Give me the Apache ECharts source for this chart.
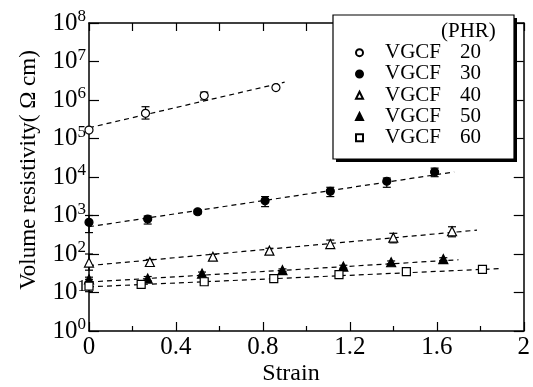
<!DOCTYPE html>
<html>
<head>
<meta charset="utf-8">
<script src="https://cdn.jsdelivr.net/npm/echarts@6/dist/echarts.min.js"></script>
<style>
  html, body { margin: 0; padding: 0; background: #fff; }
  #chart { width: 533px; height: 387px; }
</style>
</head>
<body>
<div id="chart"></div>
<script>
// Measured volume resistivity (Ω·cm) versus strain for each VGCF loading (PHR)
const loadings = ['20', '30', '40', '50', '60'];

const strain20 = [0, 0.26, 0.53, 0.86];
const rho20    = [1.66e5, 4.5e5, 1.3e6, 2.1e6];
const lo20     = [null, 3.2e5, 1.0e6, null];
const hi20     = [null, 6.7e5, 1.6e6, null];

const strain30 = [0, 0.27, 0.50, 0.81, 1.11, 1.37, 1.59];
const rho30    = [665, 810, 1250, 2400, 4250, 7750, 13500];
const lo30     = [360, 600, 1100, 1700, 3100, 5400, 10200];
const hi30     = [1000, 970, 1400, 3100, 5400, 9400, 17000];

const strain40 = [0, 0.28, 0.57, 0.83, 1.11, 1.40, 1.67];
const rho40    = [60, 62, 85, 122, 181, 265, 390];
const lo40     = [38, 52, 74, 105, 140, 195, 280];
const hi40     = [100, 72, 98, 141, 230, 345, 510];

const strain50 = [0, 0.27, 0.52, 0.89, 1.17, 1.39, 1.63];
const rho50    = [22, 23, 31, 38, 47, 61, 74];
const lo50     = [19, 20, 28, 35, 43, 56, 68];
const hi50     = [25, 26, 34, 41, 51, 66, 80];

const strain60 = [0, 0.24, 0.53, 0.85, 1.15, 1.46, 1.81];
const rho60    = [14.7, 16.3, 19, 23, 29, 35, 40];
const lo60     = [10.5, 15, 17.5, 21, 27, 33, 38];
const hi60     = [22, 17.5, 20.5, 25, 31, 37, 42];

// Log-linear fit lines: [strain start, rho start, strain end, rho end]
const fit20 = [0, 1.9e5, 0.90, 2.9e6];
const fit30 = [0, 510, 1.68, 1.35e4];
const fit40 = [0, 50, 1.785, 417];
const fit50 = [0, 18.7, 1.70, 71];
const fit60 = [0, 14, 1.90, 42];

const xTicks = [0, 0.4, 0.8, 1.2, 1.6, 2];

const FONT = '"Liberation Serif", "Times New Roman", serif';

const groups = [
  { strain: strain20, rho: rho20, lo: lo20, hi: hi20, fit: fit20, symbol: 'circle', size: 8, fill: '#fff' },
  { strain: strain30, rho: rho30, lo: lo30, hi: hi30, fit: fit30, symbol: 'circle', size: 8, fill: '#000' },
  { strain: strain40, rho: rho40, lo: lo40, hi: hi40, fit: fit40, symbol: 'triangle', size: 9, fill: '#fff' },
  { strain: strain50, rho: rho50, lo: lo50, hi: hi50, fit: fit50, symbol: 'triangle', size: 9, fill: '#000' },
  { strain: strain60, rho: rho60, lo: lo60, hi: hi60, fit: fit60, symbol: 'rect', size: 8, fill: '#fff' }
];

const names = loadings.map(l => 'VGCF ' + l);
const series = [];

groups.forEach((g, i) => {
  // dashed fit line
  series.push({
    type: 'line',
    data: [[g.fit[0], g.fit[1]], [g.fit[2], g.fit[3]]],
    symbol: 'none',
    silent: true,
    lineStyle: { color: '#000', width: 1.2, type: [5, 4] },
    z: 1
  });
  // error bars
  const errData = [];
  g.strain.forEach((s, k) => {
    if (g.lo[k] != null) errData.push([s, g.lo[k], g.hi[k]]);
  });
  series.push({
    type: 'custom',
    data: errData,
    silent: true,
    z: 2,
    renderItem: function (params, api) {
      const top = api.coord([api.value(0), api.value(2)]);
      const bot = api.coord([api.value(0), api.value(1)]);
      const half = 4;
      const st = { stroke: '#000', lineWidth: 1.2 };
      return {
        type: 'group',
        children: [
          { type: 'line', shape: { x1: top[0], y1: top[1], x2: bot[0], y2: bot[1] }, style: st },
          { type: 'line', shape: { x1: top[0] - half, y1: top[1], x2: top[0] + half, y2: top[1] }, style: st },
          { type: 'line', shape: { x1: bot[0] - half, y1: bot[1], x2: bot[0] + half, y2: bot[1] }, style: st }
        ]
      };
    }
  });
  // data points
  series.push({
    name: names[i],
    type: 'scatter',
    data: g.strain.map((s, k) => [s, g.rho[k]]),
    symbol: g.symbol,
    symbolSize: g.size,
    itemStyle: { color: g.fill, borderColor: '#000', borderWidth: 1.2, opacity: 1 },
    z: 3
  });
});

const chart = echarts.init(document.getElementById('chart'), null, { renderer: 'canvas' });

const axisLine = { show: true, onZero: false, lineStyle: { color: '#000', width: 1.5 } };

chart.setOption({
  animation: false,
  backgroundColor: '#fff',
  grid: { left: 89, right: 7, top: 23, bottom: 56, containLabel: false },
  xAxis: [
    {
      type: 'value', min: 0, max: 2, interval: 0.4, position: 'bottom',
      axisLine: axisLine,
      axisTick: { show: true, inside: true, length: 9, lineStyle: { color: '#000', width: 1.2 } },
      minorTick: { show: true, splitNumber: 2, length: 5, lineStyle: { color: '#000', width: 1.2 } },
      axisLabel: {
        fontFamily: FONT, fontSize: 25, color: '#000', margin: 4,
        formatter: v => {
          const t = xTicks.find(x => Math.abs(x - v) < 1e-6);
          return t === undefined ? '' : String(t);
        }
      },
      splitLine: { show: false }
    },
    {
      type: 'value', min: 0, max: 2, interval: 0.4, position: 'top',
      axisLine: axisLine,
      axisTick: { show: true, inside: true, length: 8, lineStyle: { color: '#000', width: 1.2 } },
      minorTick: { show: true, splitNumber: 2, length: 8, lineStyle: { color: '#000', width: 1.2 } },
      axisLabel: { show: false },
      splitLine: { show: false }
    }
  ],
  yAxis: [
    {
      type: 'log', logBase: 10, min: 1, max: 1e8, interval: 1, position: 'left',
      axisLine: axisLine,
      axisTick: { show: true, inside: true, length: 10, lineStyle: { color: '#000', width: 1.2 } },
      axisLabel: {
        margin: 3,
        formatter: v => '{b|10}{e|' + Math.round(Math.log10(v)) + '}',
        rich: {
          b: { fontFamily: FONT, fontSize: 25, color: '#000' },
          e: { fontFamily: FONT, fontSize: 17, color: '#000', padding: [0, 0, 12, 0] }
        }
      },
      splitLine: { show: false }
    },
    {
      type: 'log', logBase: 10, min: 1, max: 1e8, interval: 1, position: 'right',
      axisLine: axisLine,
      axisTick: { show: true, inside: true, length: 10, lineStyle: { color: '#000', width: 1.2 } },
      axisLabel: { show: false },
      splitLine: { show: false }
    }
  ],
  legend: {
    data: names,
    orient: 'vertical',
    left: 355, top: 42,
    itemWidth: 7, itemHeight: 7, itemGap: 0,
    padding: 0,
    z: 20,
    selectedMode: false,
    formatter: name => {
      const parts = name.split(' ');
      return '{a|' + parts[0] + '}{n|' + parts[1] + '}';
    },
    textStyle: {
      lineHeight: 21.3,
      rich: {
        a: { fontFamily: FONT, fontSize: 21, color: '#000', width: 75, padding: [0, 0, 0, 17], lineHeight: 21.3 },
        n: { fontFamily: FONT, fontSize: 21, color: '#000', lineHeight: 21.3 }
      }
    }
  },
  graphic: [
    { type: 'rect', z: 10, shape: { x: 336, y: 18, width: 181, height: 144 }, style: { fill: '#000' } },
    { type: 'rect', z: 11, shape: { x: 333, y: 15, width: 181, height: 144 }, style: { fill: '#fff', stroke: '#000', lineWidth: 1.2 } },
    { type: 'text', z: 12, left: 441, top: 21, style: { text: '(PHR)', fontFamily: FONT, fontSize: 21, fill: '#000' } },
    // axis titles
    { type: 'text', z: 12, x: 291, y: 374, style: { text: 'Strain', fontFamily: FONT, fontSize: 24, fill: '#000', align: 'center', verticalAlign: 'middle' } },
    { type: 'text', z: 12, x: 29, y: 170, rotation: Math.PI / 2, style: { text: 'Volume resistivity( \u03A9 cm)', fontFamily: FONT, fontSize: 23, fill: '#000', align: 'center', verticalAlign: 'middle' } }
  ],
  series: series
});
</script>
</body>
</html>
